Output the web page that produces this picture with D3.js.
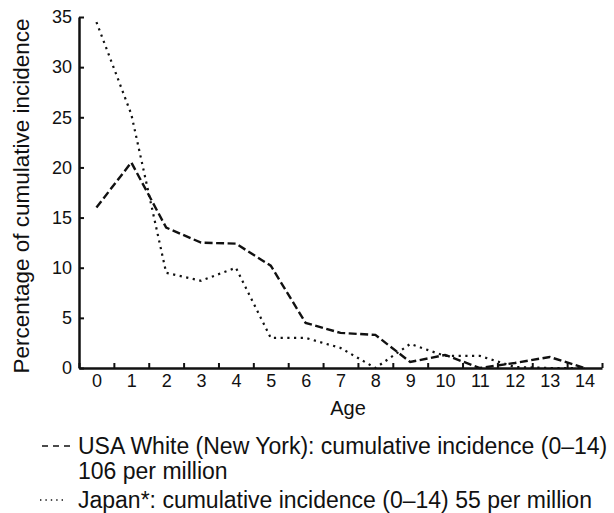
<!DOCTYPE html>
<html>
<head>
  <meta charset="UTF-8" />
  <title>Cumulative incidence by age</title>
  <style>
    body { margin: 0; background: #fff; font-family: "Liberation Sans", Arial, sans-serif; }
    svg text { fill: #111; }
  </style>
</head>
<body>
  <div id="chart"></div>
  <script src="https://d3js.org/d3.v7.min.js"></script>
  <script>
    // valeurs
    const ages = [0, 1, 2, 3, 4, 5, 6, 7, 8, 9, 10, 11, 12, 13, 14];
    const usaWhite = [16, 20.5, 14, 12.5, 12.4, 10.2, 4.5, 3.5, 3.3, 0.6, 1.3, 0, 0.5, 1.1, 0];
    const japan = [34.5, 25.3, 9.5, 8.7, 10, 3, 3, 2, 0, 2.4, 1.2, 1.2, 0.1, 0, 0];
    const yTicks = [0, 5, 10, 15, 20, 25, 30, 35];
    const legendLines = [
      "USA White (New York): cumulative incidence (0\u201314)",
      "106 per million",
      "Japan*: cumulative incidence (0\u201314) 55 per million"
    ];

    const W = 614, H = 513;
    const margin = { left: 79, right: 602, top: 17, bottom: 368 };

    const svg = d3.select("#chart").append("svg")
      .attr("width", W)
      .attr("height", H);

    const x = d3.scaleLinear().domain([-0.5, 14.5]).range([margin.left, margin.right]);
    const y = d3.scaleLinear().domain([0, 35]).range([margin.bottom, margin.top]);

    // axe x : libellés au centre des classes, petits traits aux limites
    const xLab = svg.append("g")
      .attr("transform", `translate(0,${margin.bottom})`)
      .call(d3.axisBottom(x).tickValues(ages).tickSize(0).tickPadding(6));
    xLab.select(".domain").remove();
    xLab.selectAll("text")
      .attr("font-size", 18)
      .attr("font-family", "Liberation Sans, Arial, sans-serif");

    const xTick = svg.append("g")
      .attr("transform", `translate(0,${margin.bottom})`)
      .call(d3.axisBottom(x).tickValues(d3.range(-0.5, 15, 1)).tickSize(-5).tickSizeOuter(0).tickFormat(""));
    xTick.select(".domain").attr("stroke-width", 2.5).attr("stroke", "#111");
    xTick.selectAll(".tick line").attr("stroke-width", 2).attr("stroke", "#111");

    const yAx = svg.append("g")
      .attr("transform", `translate(${margin.left},0)`)
      .call(d3.axisLeft(y).tickValues(yTicks).tickSize(-5).tickSizeOuter(0).tickPadding(7));
    yAx.select(".domain").attr("stroke-width", 2.5).attr("stroke", "#111");
    yAx.selectAll(".tick line").attr("stroke-width", 2).attr("stroke", "#111");
    yAx.selectAll("text")
      .attr("font-size", 18)
      .attr("font-family", "Liberation Sans, Arial, sans-serif");

    // titres des axes
    svg.append("text")
      .attr("x", 348)
      .attr("y", 415)
      .attr("text-anchor", "middle")
      .attr("font-size", 20)
      .text("Age");

    svg.append("text")
      .attr("transform", `translate(29,${(15 + 377) / 2}) rotate(-90)`)
      .attr("text-anchor", "middle")
      .attr("font-size", 22.5)
      .text("Percentage of cumulative incidence");

    // courbes
    const line = d3.line()
      .x((d, i) => x(ages[i]))
      .y(d => y(d));

    svg.append("path")
      .datum(usaWhite)
      .attr("d", line)
      .attr("fill", "none")
      .attr("stroke", "#111")
      .attr("stroke-width", 2.4)
      .attr("stroke-dasharray", "8,3.5");

    svg.append("path")
      .datum(japan)
      .attr("d", line)
      .attr("fill", "none")
      .attr("stroke", "#111")
      .attr("stroke-width", 2.2)
      .attr("stroke-dasharray", "2.2,4.5");

    // légende
    const lg = svg.append("g").attr("font-size", 23);

    lg.append("line")
      .attr("x1", 42).attr("x2", 70)
      .attr("y1", 446).attr("y2", 446)
      .attr("stroke", "#111").attr("stroke-width", 1.6)
      .attr("stroke-dasharray", "6,5");
    lg.append("text").attr("x", 78).attr("y", 454).text(legendLines[0]);
    lg.append("text").attr("x", 78).attr("y", 479).text(legendLines[1]);

    lg.append("line")
      .attr("x1", 40).attr("x2", 66)
      .attr("y1", 500).attr("y2", 500)
      .attr("stroke", "#111").attr("stroke-width", 1.4)
      .attr("stroke-dasharray", "1.4,4");
    lg.append("text").attr("x", 78).attr("y", 508).text(legendLines[2]);
  </script>
</body>
</html>
